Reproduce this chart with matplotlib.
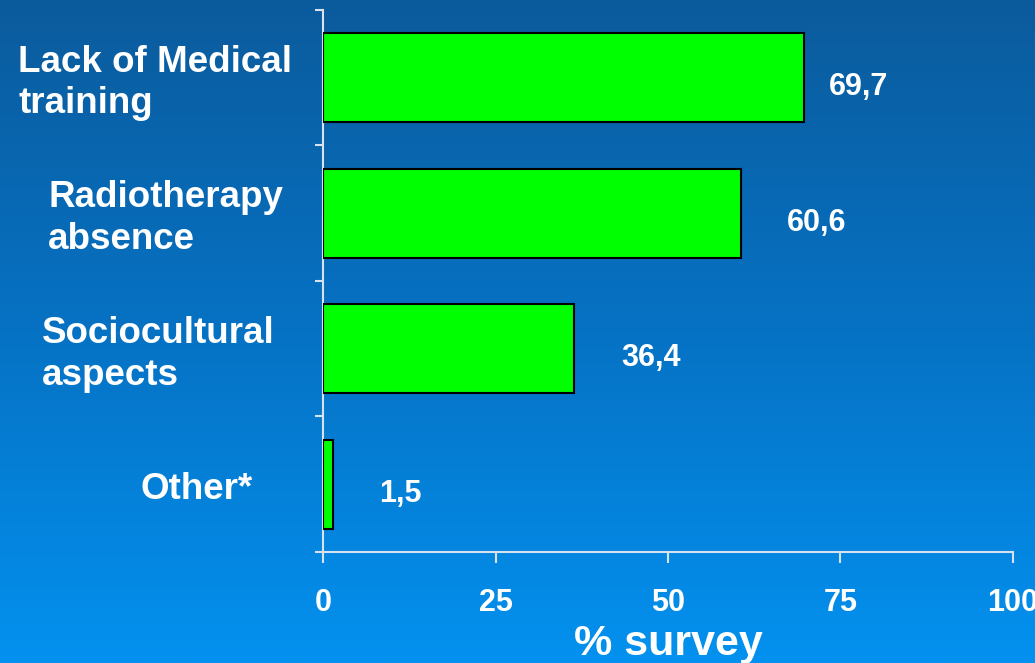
"""
Horizontal bar chart: reasons given in the survey (% survey).
"""

# Imports #
import numpy as np
import matplotlib
matplotlib.use("Agg")
from matplotlib import pyplot as plt
from matplotlib import transforms
from matplotlib.colors import LinearSegmentedColormap

# Data #
categories = ["Lack of Medical\ntraining", "Radiotherapy\nabsence",
              "Sociocultural\naspects", "Other*"]
values = [69.7, 60.6, 36.4, 1.5]
value_labels = ["69,7", "60,6", "36,4", "1,5"]
x_ticks = [0, 25, 50, 75, 100]
x_label = "% survey"

# Layout tweaks: left edge of each category label (figure fraction)
# and gap between bar end and its value label (x units)
label_x = [0.0174, 0.0464, 0.0406, 0.1353]
label_gap = [3.6, 6.7, 6.9, 6.7]

BOLD = ["Liberation Sans", "DejaVu Sans"]
AXIS_COL = "#d8e2ee"

fig = plt.figure(figsize=(10.35, 6.63), dpi=100)

# Background gradient (dark blue at top, light blue at bottom)
bg = fig.add_axes([0, 0, 1, 1], zorder=-1)
cmap = LinearSegmentedColormap.from_list("bg", ["#0b5b9c", "#0672c4", "#0391ef"])
grad = np.linspace(0, 1, 256).reshape(-1, 1)
bg.imshow(grad, aspect="auto", cmap=cmap, extent=[0, 1, 0, 1], origin="upper")
bg.axis("off")

ax = fig.add_axes([0.3121, 0.1674, 0.6666, 0.8176])
ax.patch.set_alpha(0)

pos = np.arange(len(categories))
ax.barh(pos, values, height=0.66, color="#00ff00", edgecolor="black",
        linewidth=1.5, zorder=3)

ax.set_xlim(0, 100)
ax.set_ylim(len(categories) - 0.5, -0.5)

# Value labels next to the bars
for p, v, lab, gap in zip(pos, values, value_labels, label_gap):
    ax.text(v + gap, p + 0.07, lab, ha="left", va="center", color="white",
            fontsize=22, fontweight="bold", family=BOLD)

# Category labels, placed by hand on the left
tr = transforms.blended_transform_factory(fig.transFigure, ax.transData)
for p, name, lx in zip(pos, categories, label_x):
    ax.text(lx, p + 0.04, name, transform=tr, ha="left", va="center",
            color="white", fontsize=26.5, fontweight="bold", family=BOLD,
            linespacing=1.25)

# Axes styling
for side in ["top", "right"]:
    ax.spines[side].set_visible(False)
for side in ["left", "bottom"]:
    ax.spines[side].set_color(AXIS_COL)
    ax.spines[side].set_linewidth(1.5)

ax.set_yticks(np.arange(-0.5, len(categories)))
ax.set_yticklabels([])
ax.tick_params(axis="y", direction="out", length=6, width=1.5, color=AXIS_COL)

ax.set_xticks(x_ticks)
ax.set_xticklabels([str(t) for t in x_ticks], fontsize=22, fontweight="bold",
                   family=BOLD, color="white")
ax.tick_params(axis="x", direction="out", length=8, width=1.5,
               color=AXIS_COL, pad=18)

ax.set_xlabel(x_label, fontsize=31, fontweight="bold", family=BOLD,
              color="white", labelpad=4)

fig.savefig("out.png", dpi=100)
